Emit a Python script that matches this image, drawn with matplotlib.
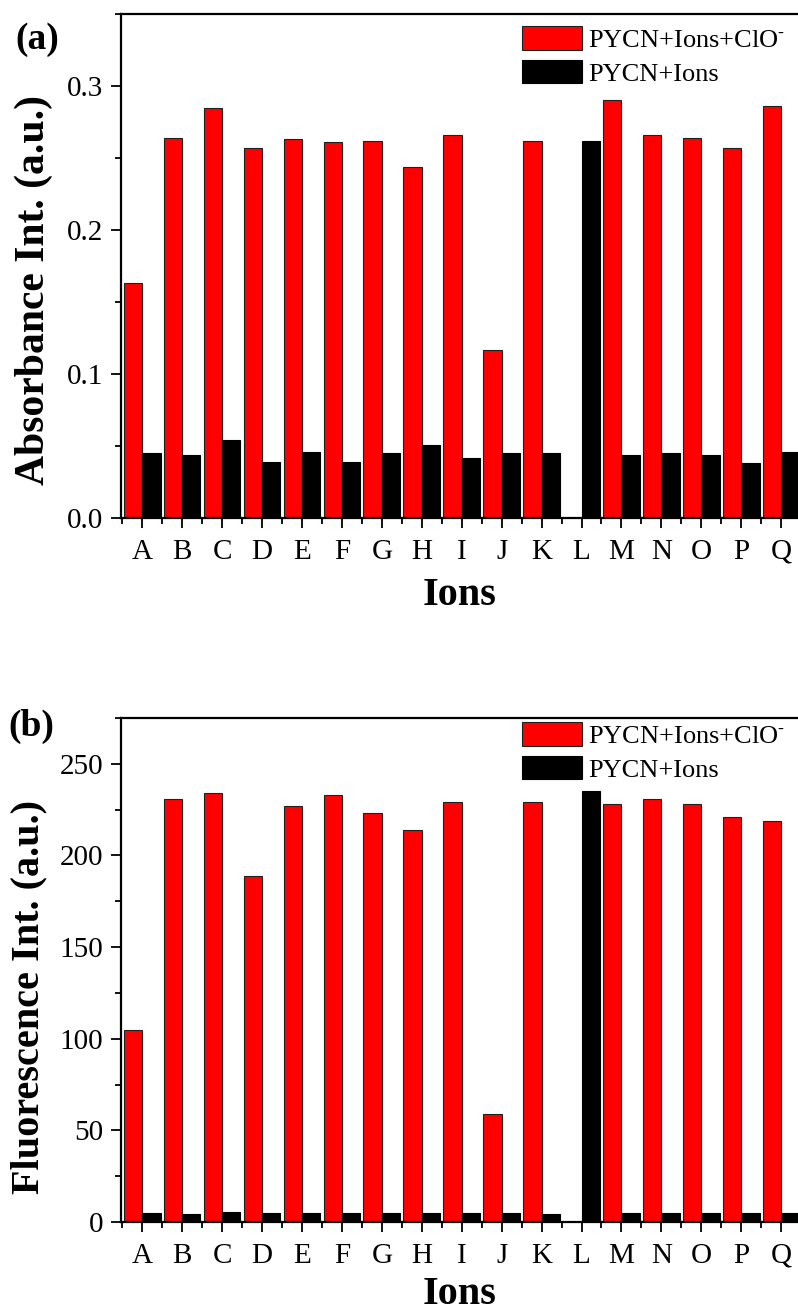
import numpy as np
import matplotlib
matplotlib.use("Agg")
import matplotlib.pyplot as plt
from matplotlib.ticker import MultipleLocator, FixedLocator

plt.rcParams['font.family'] = ['Liberation Serif', 'DejaVu Serif']
plt.rcParams['mathtext.fontset'] = 'stix'

ions = ['A', 'B', 'C', 'D', 'E', 'F', 'G', 'H', 'I', 'J', 'K', 'L', 'M', 'N', 'O', 'P', 'Q']

# absorbance (a.u.)
abs_clo = [0.163, 0.264, 0.285, 0.257, 0.263, 0.261, 0.262, 0.244, 0.266, 0.117,
           0.262, 0.0, 0.290, 0.266, 0.264, 0.257, 0.286]
abs_ions = [0.045, 0.044, 0.054, 0.039, 0.046, 0.039, 0.045, 0.051, 0.042, 0.045,
            0.045, 0.262, 0.044, 0.045, 0.044, 0.038, 0.046]

# fluorescence (a.u.)
fl_clo = [105, 231, 234, 189, 227, 233, 223, 214, 229, 59,
          229, 0, 228, 231, 228, 221, 219]
fl_ions = [5, 4.5, 5.5, 5, 5, 5, 5, 5, 5, 5,
           4.5, 235, 5, 5, 5, 5, 5]

label_clo = 'PYCN+Ions+ClO$^{\u2010}$'
label_ions = 'PYCN+Ions'

W, H = 798, 1312
fig = plt.figure(figsize=(W / 100, H / 100), dpi=100)

x = np.arange(len(ions))
bw = 0.46


def panel(rect, red, black, ylim, major, minor, fmt, ylabel, ylab_size, ylab_xy,
          xlab_pad, leg_top):
    ax = fig.add_axes(rect)
    ax.bar(x - bw / 2, red, bw, color='#ff0000', edgecolor='#202020', linewidth=0.8,
           label=label_clo)
    ax.bar(x + bw / 2, black, bw, color='black', edgecolor='black', linewidth=0.8,
           label=label_ions)
    ax.set_xlim(-0.53, 16.42)
    ax.set_ylim(*ylim)
    ax.set_xticks(x)
    ax.set_xticklabels(ions)
    ax.xaxis.set_minor_locator(FixedLocator(np.arange(-0.5, 17, 1.0)))
    ax.yaxis.set_major_locator(MultipleLocator(major))
    ax.yaxis.set_minor_locator(MultipleLocator(minor))
    ax.yaxis.set_major_formatter(fmt)
    ax.spines['right'].set_visible(False)
    for s in ['left', 'top', 'bottom']:
        ax.spines[s].set_linewidth(1.6)
    ax.tick_params(which='major', direction='out', length=7, width=1.3,
                   labelsize=21, pad=6)
    ax.tick_params(which='minor', direction='out', length=4, width=1.3)
    ax.tick_params(axis='x', which='major', pad=8)
    ax.set_xlabel('Ions', fontsize=29, fontweight='bold', labelpad=xlab_pad)
    ax.set_ylabel(ylabel, fontsize=ylab_size, fontweight='bold')
    ax.yaxis.set_label_coords(*ylab_xy)
    ax.legend(loc='upper left', bbox_to_anchor=(0.592, leg_top), frameon=False,
              fontsize=19, handlelength=2.3, handleheight=1.0, handletextpad=0.2,
              labelspacing=0.3, borderpad=0, borderaxespad=0)
    return ax


left = 121 / W
width = 1.0 - left
panel([left, 1 - 518 / H, width, 504 / H], abs_clo, abs_ions, (0, 0.35),
      0.1, 0.05, '{x:.1f}', 'Absorbance Int. (a.u.)', 30, (-0.10, 0.452), 9, 0.976)
panel([left, 1 - 1222 / H, width, 504 / H], fl_clo, fl_ions, (0, 275),
      50, 25, '{x:.0f}', 'Fluorescence Int. (a.u.)', 29, (-0.108, 0.446), 5, 0.992)

# panel tags
fig.text(15 / W, 1 - 22 / H, '(a)', fontsize=27, fontweight='bold', ha='left', va='top')
fig.text(8 / W, 1 - 709 / H, '(b)', fontsize=27, fontweight='bold', ha='left', va='top')

fig.savefig('out.png', dpi=100)
